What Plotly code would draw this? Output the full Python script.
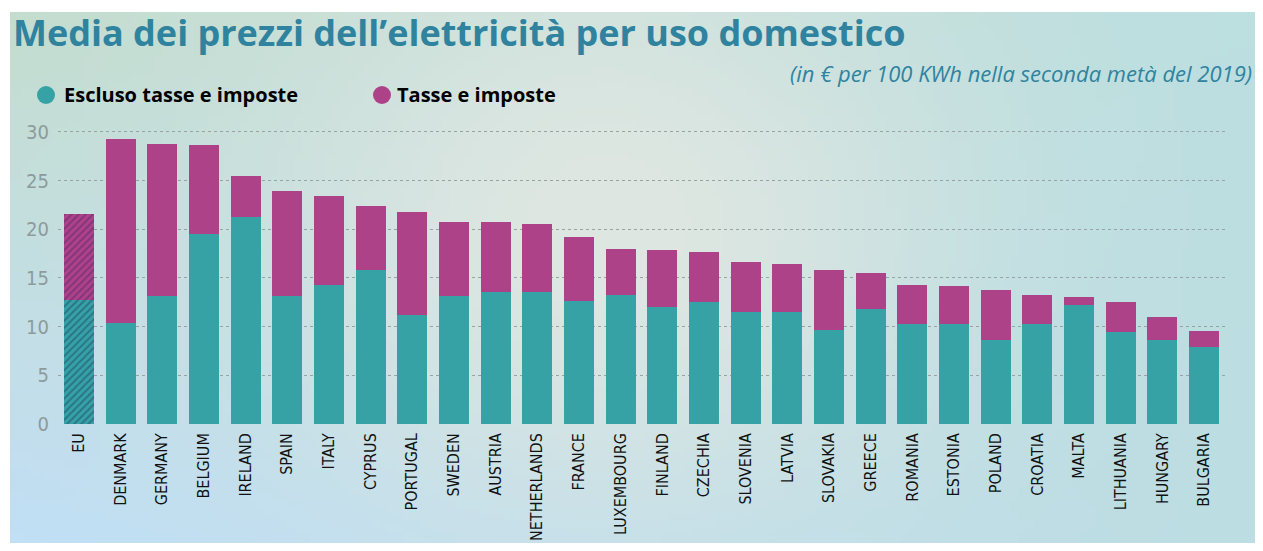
import base64, struct, zlib
import numpy as np
import plotly.graph_objects as go

# ---------------- data ----------------
countries = ["EU", "DENMARK", "GERMANY", "BELGIUM", "IRELAND", "SPAIN", "ITALY", "CYPRUS",
             "PORTUGAL", "SWEDEN", "AUSTRIA", "NETHERLANDS", "FRANCE", "LUXEMBOURG", "FINLAND",
             "CZECHIA", "SLOVENIA", "LATVIA", "SLOVAKIA", "GREECE", "ROMANIA", "ESTONIA",
             "POLAND", "CROATIA", "MALTA", "LITHUANIA", "HUNGARY", "BULGARIA"]
excl_taxes = [12.76, 10.42, 13.17, 19.55, 21.30, 13.20, 14.30, 15.77, 11.18, 13.17, 13.51,
              13.58, 12.62, 13.24, 12.04, 12.58, 11.49, 11.46, 9.67, 11.86, 10.29, 10.29,
              8.67, 10.29, 12.24, 9.47, 8.61, 7.95]
taxes = [8.81, 18.88, 15.60, 9.08, 4.18, 10.77, 9.13, 6.59, 10.63, 7.58, 7.24,
         7.00, 6.55, 4.76, 5.79, 5.12, 5.18, 4.97, 6.17, 3.64, 3.94, 3.84,
         5.08, 2.95, 0.79, 3.05, 2.37, 1.62]
y_ticks = [0, 5, 10, 15, 20, 25, 30]
series_names = ["Escluso tasse e imposte", "Tasse e imposte"]

title_text = "Media dei prezzi dell\u2019elettricit\u00e0 per uso domestico"
subtitle_text = "(in \u20ac per 100 KWh nella seconda met\u00e0 del 2019)"

# ---------------- style ----------------
OFF = 8                      # page body margin
W, H = 1247, 535
L, R, T, B = 50, 30, 121, 118
TEAL = "#36a2a5"
MAGENTA = "#ae4289"
TITLE_COL = "#2f839e"

pw = W - L - R
ph = H - T - B


def px_x(sx):
    return (sx - OFF - L) / pw


def px_y(sy):
    return (H - B - (sy - OFF)) / ph


def make_bg(w=160, h=80):
    xs = np.linspace(0, 1, w)[None, :, None]
    ys = np.linspace(0, 1, h)[:, None, None]
    tl = np.array([196, 221, 207], float)
    tr = np.array([188, 223, 225], float)
    bl = np.array([193, 223, 246], float)
    br = np.array([188, 221, 226], float)
    col = (tl * (1 - xs) * (1 - ys) + tr * xs * (1 - ys) + bl * (1 - xs) * ys + br * xs * ys)
    center = np.array([223, 231, 226], float)
    wgt = np.exp(-((xs - 0.48) / 0.27) ** 2 - ((ys - 0.4) / 0.55) ** 2)
    col = col * (1 - wgt) + center * wgt
    return np.clip(col, 0, 255).astype(np.uint8)


def png_uri(arr):
    h, w, _ = arr.shape
    raw = b"".join(b"\x00" + arr[i].tobytes() for i in range(h))

    def chunk(tag, data):
        c = struct.pack(">I", len(data)) + tag + data
        return c + struct.pack(">I", zlib.crc32(tag + data) & 0xFFFFFFFF)

    png = b"\x89PNG\r\n\x1a\n" + chunk(b"IHDR", struct.pack(">IIBBBBB", w, h, 8, 2, 0, 0, 0)) \
        + chunk(b"IDAT", zlib.compress(raw, 9)) + chunk(b"IEND", b"")
    return "data:image/png;base64," + base64.b64encode(png).decode()


n = len(countries)
shape_base = ["/"] + [""] * (n - 1)

fig = go.Figure()
fig.add_trace(go.Bar(
    x=countries, y=excl_taxes, name=series_names[0], showlegend=False,
    marker=dict(color=TEAL, line=dict(width=0),
                pattern=dict(shape=shape_base, fgcolor="#1c4868", size=5, solidity=0.4)),
))
fig.add_trace(go.Bar(
    x=countries, y=taxes, name=series_names[1], showlegend=False,
    marker=dict(color=MAGENTA, line=dict(width=0),
                pattern=dict(shape=shape_base, fgcolor="#58276c", size=5, solidity=0.4)),
))

cond = "DejaVu Sans Condensed, Liberation Sans Narrow, sans-serif"

fig.update_layout(
    width=W, height=H,
    margin=dict(l=L, r=R, t=T, b=B, pad=0, autoexpand=False),
    barmode="stack", bargap=0.28,
    paper_bgcolor="white", plot_bgcolor="rgba(0,0,0,0)",
    showlegend=False,
    xaxis=dict(
        range=[-0.5, n - 0.5], tickangle=-90, showgrid=False, zeroline=False,
        showline=False, ticks="", ticklabelstandoff=4, automargin=False,
        tickfont=dict(family=cond, size=16, color="#111111"),
    ),
    yaxis=dict(
        range=[-0.1, 30.3], tickvals=y_ticks, showgrid=True, gridcolor="#98a4a4",
        griddash="3px,3px", gridwidth=1, zeroline=False, showline=False, ticks="",
        ticklabelstandoff=8, automargin=False,
        tickfont=dict(family=cond, size=20, color="#8d9b9b"),
    ),
    images=[dict(
        source=png_uri(make_bg()), xref="paper", yref="paper",
        x=px_x(10), y=px_y(12), sizex=(W + OFF - 10) / pw, sizey=(H + OFF - 12) / ph,
        xanchor="left", yanchor="top", sizing="stretch", layer="below",
    )],
)

annotations = [
    dict(text="<b>" + title_text + "</b>", x=px_x(11), y=px_y(32), xanchor="left",
         yanchor="middle", xref="paper", yref="paper", showarrow=False,
         font=dict(family="Open Sans, sans-serif", size=36, color=TITLE_COL)),
    dict(text="<i>" + subtitle_text + "</i>", x=px_x(1254), y=px_y(73), xanchor="right",
         yanchor="middle", xref="paper", yref="paper", showarrow=False,
         font=dict(family="Open Sans, sans-serif", size=22, color=TITLE_COL)),
    dict(text="<b>" + series_names[0] + "</b>", x=px_x(62), y=px_y(95), xanchor="left",
         yanchor="middle", xref="paper", yref="paper", showarrow=False,
         font=dict(family="Open Sans, sans-serif", size=20, color="black")),
    dict(text="<b>" + series_names[1] + "</b>", x=px_x(395), y=px_y(95), xanchor="left",
         yanchor="middle", xref="paper", yref="paper", showarrow=False,
         font=dict(family="Open Sans, sans-serif", size=20, color="black")),
]
fig.update_layout(annotations=annotations)

shapes = []
for cx, c in [(46, TEAL), (382, MAGENTA)]:
    shapes.append(dict(type="circle", xref="paper", yref="paper",
                       x0=px_x(cx - 9), x1=px_x(cx + 9), y0=px_y(95 + 9), y1=px_y(95 - 9),
                       fillcolor=c, line=dict(width=0)))
fig.update_layout(shapes=shapes)

fig.write_html("out.html")
